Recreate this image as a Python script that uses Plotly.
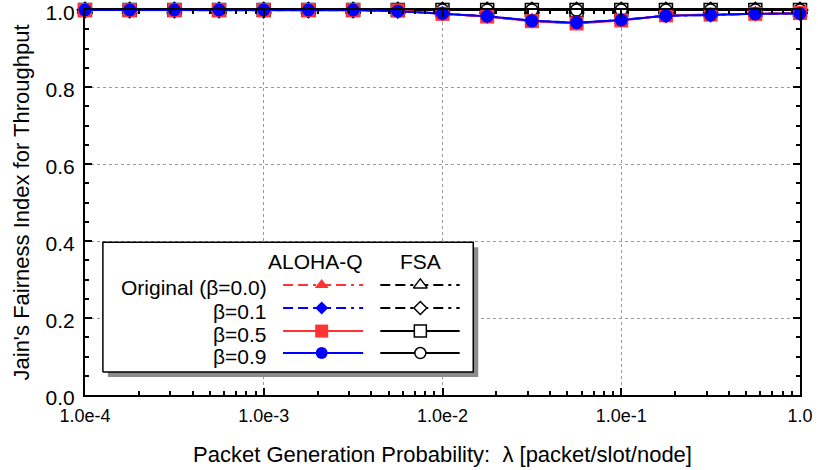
import plotly.graph_objects as go

# ---------------- data ----------------
lam = [1.0e-4, 1.778e-4, 3.162e-4, 5.623e-4, 1.0e-3, 1.778e-3, 3.162e-3, 5.623e-3,
       1.0e-2, 1.778e-2, 3.162e-2, 5.623e-2, 1.0e-1, 1.778e-1, 3.162e-1, 5.623e-1, 1.0]

aloha_orig = [1.0, 1.0, 1.0, 1.0, 1.0, 1.0, 1.0, 0.999, 0.990, 0.983, 0.971, 0.965,
              0.973, 0.986, 0.988, 0.990, 0.992]
aloha_b01 = [1.0, 1.0, 1.0, 1.0, 1.0, 1.0, 1.0, 0.997, 0.991, 0.984, 0.972, 0.967,
             0.974, 0.985, 0.987, 0.990, 0.991]
aloha_b05 = [1.0, 1.0, 1.0, 1.0, 1.0, 1.0, 1.0, 0.999, 0.990, 0.983, 0.971, 0.965,
             0.973, 0.986, 0.988, 0.990, 0.992]
aloha_b09 = [1.0, 1.0, 1.0, 1.0, 1.0, 1.0, 1.0, 0.997, 0.991, 0.984, 0.972, 0.967,
             0.974, 0.985, 0.987, 0.990, 0.991]
fsa_orig = [1.0] * 17
fsa_b01 = [1.0] * 17
fsa_b05 = [1.0] * 17
fsa_b09 = [1.0] * 17

x_tickvals = [1e-4, 1e-3, 1e-2, 1e-1, 1.0]
x_ticktext = ["1.0e-4", "1.0e-3", "1.0e-2", "1.0e-1", "1.0"]
x_minor_tickvals = [m * d for d in (1e-4, 1e-3, 1e-2, 1e-1) for m in range(2, 10)]
y_tickvals = [0.0, 0.2, 0.4, 0.6, 0.8, 1.0]

row_labels = ["Original (\u03b2=0.0)", "\u03b2=0.1", "\u03b2=0.5", "\u03b2=0.9"]
col_labels = ["ALOHA-Q", "FSA"]

RED = "#ff3333"
BLUE = "#0000ff"
BLACK = "#000000"
DASH = "10px,5px,10px,5px,3px,5px"
FONT = "Liberation Sans, Arial, sans-serif"

aloha_series = [
    (aloha_orig, RED, DASH, "triangle-up", 13, RED),
    (aloha_b01, BLUE, DASH, "diamond", 12, BLUE),
    (aloha_b05, RED, "solid", "square", 14, RED),
    (aloha_b09, BLUE, "solid", "circle", 13, BLUE),
]
fsa_series = [
    (fsa_orig, BLACK, DASH, "triangle-up", 13),
    (fsa_b01, BLACK, DASH, "diamond", 12),
    (fsa_b05, BLACK, "solid", "square", 13),
    (fsa_b09, BLACK, "solid", "circle", 12),
]

fig = go.Figure()

# FSA first (drawn underneath)
for ys, col, dash, sym, sz in fsa_series:
    fig.add_trace(go.Scatter(
        x=lam, y=ys, mode="lines+markers", cliponaxis=False, showlegend=False,
        line=dict(color=col, width=2, dash=dash),
        marker=dict(symbol=sym, size=sz, color="white", line=dict(color=BLACK, width=1.5)),
        hoverinfo="skip"))

for ys, col, dash, sym, sz, mc in aloha_series:
    fig.add_trace(go.Scatter(
        x=lam, y=ys, mode="lines+markers", cliponaxis=False, showlegend=False,
        line=dict(color=col, width=2, dash=dash),
        marker=dict(symbol=sym, size=sz, color=mc, line=dict(width=0)),
        hoverinfo="skip"))

# ---------------- custom legend (on overlay axes in 0..1 plot-area units) ----------------
PW, PH = 715, 385
bx0, bx1, by0, by1 = 0.025, 0.543, 0.060, 0.397
sdx, sdy = 5 / PW, 5 / PH
fig.add_trace(go.Scatter(
    x=[bx0 + sdx, bx1 + sdx, bx1 + sdx, bx0 + sdx, bx0 + sdx],
    y=[by0 - sdy, by0 - sdy, by1 - sdy, by1 - sdy, by0 - sdy],
    xaxis="x2", yaxis="y2", mode="lines", fill="toself", fillcolor="#8c8c8c",
    line=dict(width=0, color="#8c8c8c"), showlegend=False, hoverinfo="skip"))
fig.add_trace(go.Scatter(
    x=[bx0, bx1, bx1, bx0, bx0], y=[by0, by0, by1, by1, by0],
    xaxis="x2", yaxis="y2", mode="lines", fill="toself", fillcolor="white",
    line=dict(width=1.5, color=BLACK), showlegend=False, hoverinfo="skip"))

row_y = [0.286, 0.226, 0.166, 0.109]
ax0, ax1, axm = 0.277, 0.389, 0.331
fx0, fx1, fxm = 0.413, 0.524, 0.469
leg_sizes_a = [12, 10, 13, 12]
leg_sizes_f = [12, 10, 12, 11]
for i, ry in enumerate(row_y):
    ys, col, dash, sym, sz, mc = aloha_series[i]
    fig.add_trace(go.Scatter(
        x=[ax0, axm, ax1], y=[ry, ry, ry], xaxis="x2", yaxis="y2",
        mode="lines", line=dict(color=col, width=2, dash=dash),
        showlegend=False, hoverinfo="skip"))
    fig.add_trace(go.Scatter(
        x=[axm], y=[ry], xaxis="x2", yaxis="y2", mode="markers",
        marker=dict(symbol=sym, size=leg_sizes_a[i], color=mc),
        showlegend=False, hoverinfo="skip"))
    fys, fcol, fdash, fsym, fsz = fsa_series[i]
    fig.add_trace(go.Scatter(
        x=[fx0, fxm, fx1], y=[ry, ry, ry], xaxis="x2", yaxis="y2",
        mode="lines", line=dict(color=fcol, width=2, dash=fdash),
        showlegend=False, hoverinfo="skip"))
    fig.add_trace(go.Scatter(
        x=[fxm], y=[ry], xaxis="x2", yaxis="y2", mode="markers",
        marker=dict(symbol=fsym, size=leg_sizes_f[i], color="white",
                    line=dict(color=BLACK, width=1.5)),
        showlegend=False, hoverinfo="skip"))

LEGF = 21
annotations = []
for i, ry in enumerate(row_y):
    annotations.append(dict(x=0.256, y=ry - 0.008, xref="x2", yref="y2", text=row_labels[i],
                            showarrow=False, xanchor="right", yanchor="middle",
                            borderpad=0,
                            font=dict(size=LEGF, color="black", family=FONT)))
annotations.append(dict(x=0.322, y=0.346, xref="x2", yref="y2", text=col_labels[0],
                        showarrow=False, xanchor="center", yanchor="middle", borderpad=0,
                        font=dict(size=LEGF, color="black", family=FONT)))
annotations.append(dict(x=fxm, y=0.346, xref="x2", yref="y2", text=col_labels[1],
                        showarrow=False, xanchor="center", yanchor="middle", borderpad=0,
                        font=dict(size=LEGF, color="black", family=FONT)))

fig.update_layout(
    width=818, height=470,
    margin=dict(l=85, r=18, t=10, b=75),
    paper_bgcolor="white", plot_bgcolor="white",
    font=dict(family=FONT, color="black"),
    annotations=annotations,
    xaxis=dict(
        type="log", range=[-4, 0], automargin=False, ticklabeloverflow="allow",
        tickvals=x_tickvals, ticktext=x_ticktext,
        ticks="inside", ticklen=7, tickwidth=2, tickcolor="black",
        minor=dict(tickvals=x_minor_tickvals, ticks="inside", ticklen=4, tickwidth=1.5,
                   tickcolor="black", showgrid=False),
        showline=True, linecolor="black", linewidth=2, mirror="allticks",
        showgrid=True, gridcolor="#9a9a9a", griddash="dot", gridwidth=1,
        tickfont=dict(size=18), ticklabelstandoff=3,
        title=dict(text="Packet Generation Probability:  \u03bb [packet/slot/node]",
                   font=dict(size=22), standoff=22),
        zeroline=False,
    ),
    yaxis=dict(
        range=[0, 1.0], automargin=False, ticklabeloverflow="allow",
        ticklabelshift=3,
        tickvals=y_tickvals, tickformat=".1f",
        ticks="inside", ticklen=7, tickwidth=2, tickcolor="black",
        minor=dict(dtick=0.05, ticks="inside", ticklen=4, tickwidth=1.5,
                   tickcolor="black", showgrid=False),
        showline=True, linecolor="black", linewidth=2, mirror="allticks",
        showgrid=True, gridcolor="#9a9a9a", griddash="dot", gridwidth=1,
        tickfont=dict(size=21), ticklabelstandoff=4,
        title=dict(text="Jain's Fairness Index for Throughput", font=dict(size=22), standoff=10),
        zeroline=False,
    ),
    xaxis2=dict(overlaying="x", range=[0, 1], visible=False, fixedrange=True),
    yaxis2=dict(overlaying="y", range=[0, 1], visible=False, fixedrange=True),
)

fig.write_html("out.html")
